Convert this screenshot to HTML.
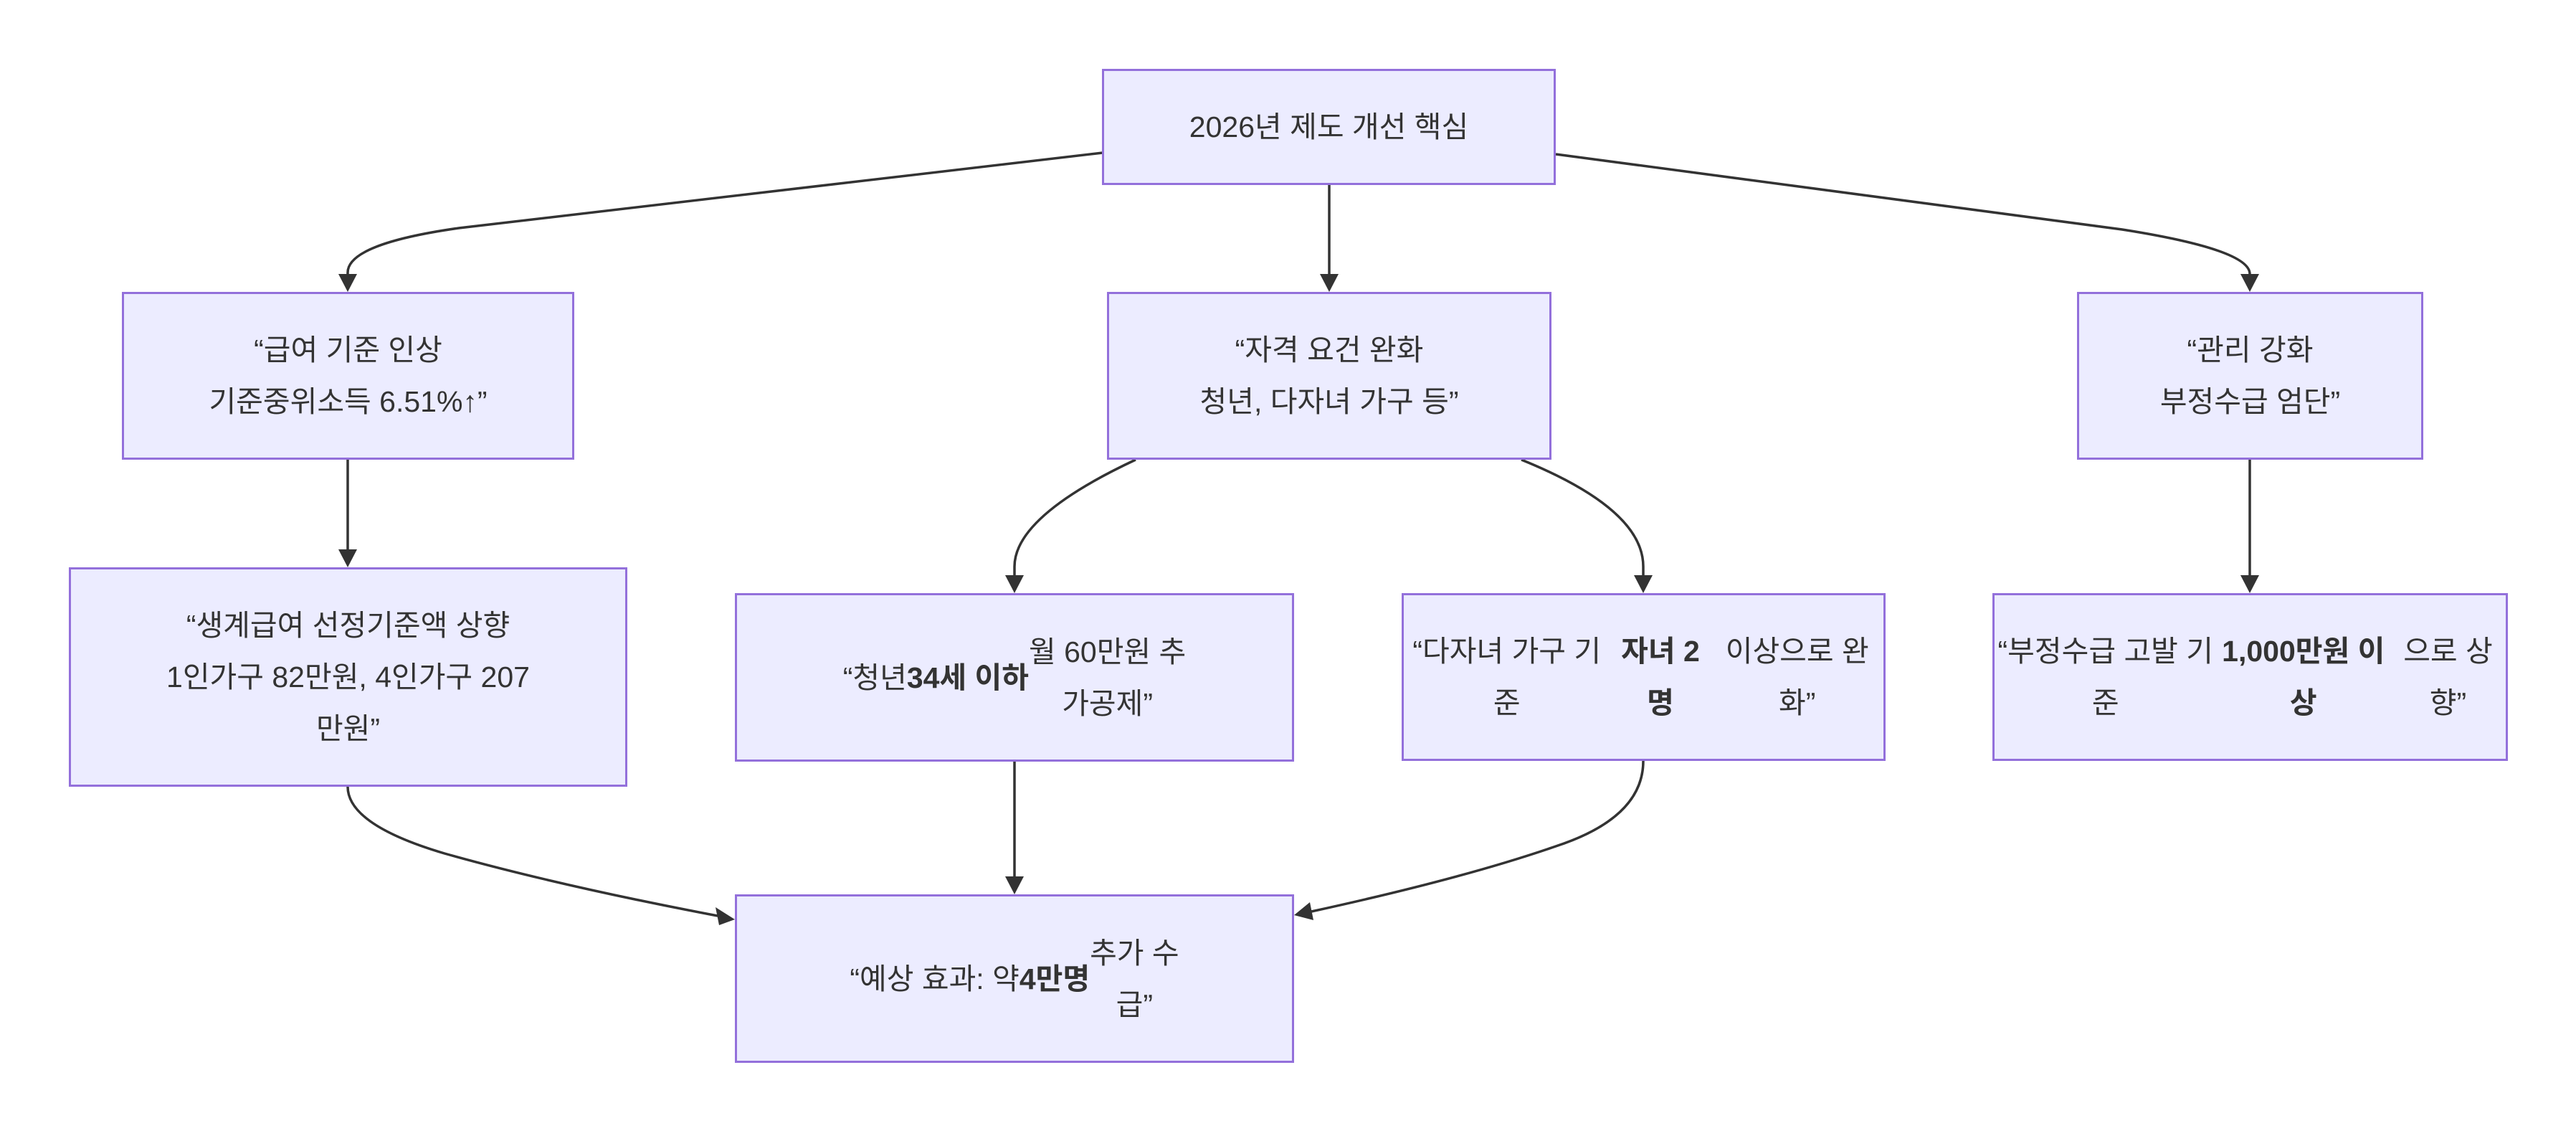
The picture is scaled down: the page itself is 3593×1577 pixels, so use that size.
<!DOCTYPE html>
<html><head><meta charset="utf-8"><style>
body{margin:0;background:#fff;}
#c{position:relative;width:3593px;height:1577px;overflow:hidden;background:#fff;}
.n{position:absolute;box-sizing:border-box;background:#ECECFF;border:3px solid #9370DB;display:flex;align-items:center;justify-content:center;text-align:center;color:#333;font-family:"Liberation Sans","Noto Sans CJK KR",sans-serif;font-size:41px;line-height:72px;}
b{font-weight:bold;}
svg{position:absolute;left:0;top:0;}
</style></head><body><div id="c">
<svg width="3593" height="1577" viewBox="0 0 3593 1577">
<defs><marker id="a" viewBox="0 0 10 10" refX="9" refY="5" markerWidth="8" markerHeight="8" markerUnits="userSpaceOnUse" orient="auto" style="overflow:visible"><path d="M0,0 L10,5 L0,10 z" fill="#333" transform="scale(2.6)" /></marker></defs>
<g fill="none" stroke="#333" stroke-width="3.5">
<path d="M1538,213 L640,318 Q485,340 485,380 L485,382" />
<path d="M1854,257 L1854,382" />
<path d="M2170,215 L2960,320 Q3138,348 3138,382" />
<path d="M485,641 L485,766" />
<path d="M1584,641 Q1415,720 1415,790 L1415,802" />
<path d="M2122,641 Q2292,710 2292,790 L2292,802" />
<path d="M3138,641 L3138,802" />
<path d="M485,1097 Q485,1150 620,1190 Q780,1235 1001,1277" />
<path d="M1415,1062 L1415,1222" />
<path d="M2292,1061 Q2292,1140 2170,1180 Q2040,1225 1829,1271" />
</g>
<g fill="#333">
<path d="M472,382 L498,382 L485,407 z"/>
<path d="M1841,382 L1867,382 L1854,407 z"/>
<path d="M3125,382 L3151,382 L3138,407 z"/>
<path d="M472,766 L498,766 L485,791 z"/>
<path d="M1402,802 L1428,802 L1415,827 z"/>
<path d="M2279,802 L2305,802 L2292,827 z"/>
<path d="M3125,802 L3151,802 L3138,827 z"/>
<path d="M1402,1222 L1428,1222 L1415,1247 z"/>
<path d="M1025,1282 L998,1265 L1003,1290 z"/>
<path d="M1805,1276 L1827,1258 L1832,1283 z"/>
</g>
</svg>
<div class="n" style="left:1537px;top:96px;width:633px;height:162px;">2026년 제도 개선 핵심</div>
<div class="n" style="left:170px;top:407px;width:631px;height:234px;">“급여 기준 인상<br>기준중위소득 6.51%↑”</div>
<div class="n" style="left:1544px;top:407px;width:620px;height:234px;">“자격 요건 완화<br>청년, 다자녀 가구 등”</div>
<div class="n" style="left:2897px;top:407px;width:483px;height:234px;">“관리 강화<br>부정수급 엄단”</div>
<div class="n" style="left:96px;top:791px;width:779px;height:306px;">“생계급여 선정기준액 상향<br>1인가구 82만원, 4인가구 207<br>만원”</div>
<div class="n" style="left:1025px;top:827px;width:780px;height:235px;">“청년<b>34세 이하</b> 월 60만원 추<br>가공제”</div>
<div class="n" style="left:1955px;top:827px;width:675px;height:234px;">“다자녀 가구 기준<br><b>자녀 2명</b> 이상으로 완화”</div>
<div class="n" style="left:2779px;top:827px;width:719px;height:234px;">“부정수급 고발 기준<br><b>1,000만원 이상</b>으로 상향”</div>
<div class="n" style="left:1025px;top:1247px;width:780px;height:235px;">“예상 효과: 약 <b>4만명</b> 추가 수<br>급”</div>
</div></body></html>
